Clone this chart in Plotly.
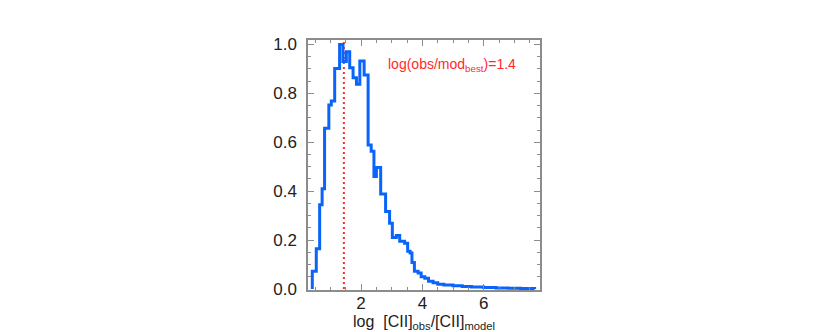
import plotly.graph_objects as go

# histogram bin edges (log obs/model) and normalised heights
bin_edges = [0.41, 0.54, 0.65, 0.73, 0.81, 0.95, 1.03, 1.14, 1.30, 1.41, 1.52,
             1.63, 1.74, 1.85, 1.96, 2.10, 2.23, 2.33, 2.42, 2.50, 2.64, 2.80,
             2.93, 3.02, 3.15, 3.26, 3.42, 3.52, 3.60, 3.66, 3.74, 3.86, 3.96,
             4.08, 4.20, 4.35, 4.50, 4.70, 5.00, 5.30, 5.60, 6.00, 6.40, 6.80,
             7.20, 7.66]
heights = [0.073, 0.165, 0.344, 0.41, 0.657, 0.752, 0.769, 0.902, 1.0, 0.93,
           0.97, 0.905, 0.864, 0.837, 0.932, 0.875, 0.589, 0.563, 0.46, 0.497,
           0.388, 0.317, 0.269, 0.211, 0.219, 0.195, 0.187, 0.154, 0.147, 0.108,
           0.073, 0.065, 0.05, 0.044, 0.032, 0.026, 0.02, 0.016, 0.013, 0.010,
           0.008, 0.006, 0.004, 0.003, 0.002]

best_fit = 1.44
best_label = "1.4"

# step outline: start at zero, each bin top, back to zero
xs = [bin_edges[0]] + bin_edges
ys = [0] + heights + [0]

font_name = "Liberation Sans"
grey = "#8c8c8c"

fig = go.Figure()

fig.add_trace(go.Scatter(
    x=[best_fit, best_fit], y=[0, 1.01], mode="lines",
    line=dict(color="#ff2a2a", width=2, dash="2px,3px"),
    showlegend=False, hoverinfo="skip"))

fig.add_trace(go.Scatter(
    x=xs, y=ys, mode="lines", line_shape="hv",
    line=dict(color="#0a64fa", width=3),
    showlegend=False))

fig.add_annotation(
    x=0.62, y=0.90, xref="paper", yref="paper", xanchor="center", yanchor="middle",
    text="log(obs/mod<sub>best</sub>)=" + best_label, showarrow=False,
    font=dict(family=font_name, size=14, color="#ff2a2a"))

# x title as an annotation so the subscripts stay inside the page
fig.add_annotation(
    x=0.5, y=-0.128, xref="paper", yref="paper", xanchor="center", yanchor="middle",
    text="log&nbsp;&nbsp;[CII]<sub>obs</sub>/[CII]<sub>model</sub>", showarrow=False,
    font=dict(family=font_name, size=16, color="#222222"))

axis_style = dict(
    showline=True, linecolor=grey, linewidth=1.5, mirror="ticks",
    ticks="inside", tickcolor=grey, tickwidth=1, ticklen=6,
    showgrid=False, zeroline=False,
    tickfont=dict(family=font_name, size=17, color="#222222"))

fig.update_xaxes(
    range=[0.27, 7.835], dtick=2, tick0=0, ticklabelstandoff=-3,
    minor=dict(dtick=0.5, ticks="inside", ticklen=3, tickcolor=grey),
    **axis_style)
fig.update_yaxes(
    range=[-0.004, 1.018], dtick=0.2, tick0=0, tickformat=".1f",
    ticklabelstandoff=6,
    minor=dict(dtick=0.05, ticks="inside", ticklen=3, tickcolor=grey),
    **axis_style)

fig.update_layout(
    width=830, height=332,
    margin=dict(l=300, r=298, t=32, b=50),
    paper_bgcolor="white", plot_bgcolor="white")

fig.write_html("out.html")
